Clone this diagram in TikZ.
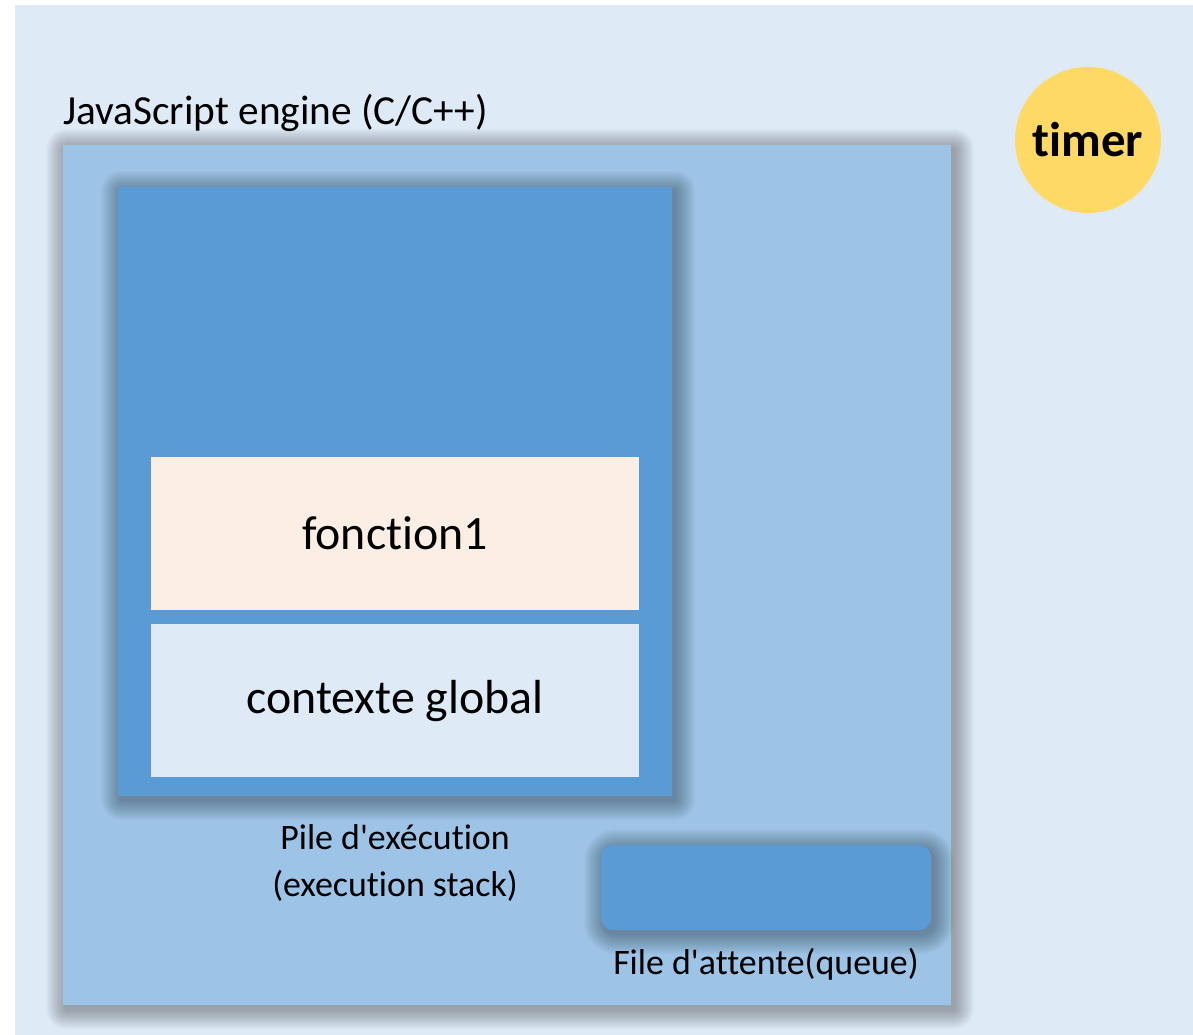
\documentclass[tikz,border=0pt]{standalone}
\usepackage{fontspec}
\setmainfont{Carlito}[Ligatures={TeXOff,NoCommon}]
\definecolor{bgblue}{HTML}{DEEAF6}
\definecolor{engblue}{HTML}{9DC3E6}
\definecolor{midblue}{HTML}{5B9BD5}
\definecolor{peach}{HTML}{FBEEE5}
\definecolor{timergold}{HTML}{FFD966}
\tikzset{
  box/.style={inner sep=0pt, outer sep=0pt, draw=none},
  lbl/.style={inner sep=0pt, font=\fontsize{36}{47}\selectfont},
  shadowlayer/.style={fill=black, fill opacity=0.016, draw=none},
}
\newcommand\softshadowof[2]{%
  \foreach \k in {1,...,20}{%
    \pgfmathsetmacro\rr{#2+\k}%
    \fill[shadowlayer, rounded corners=\rr bp] ([shift={(-\k+3,-\k+4)}]#1.north west) rectangle ([shift={(\k+3,\k+4)}]#1.south east);
  }}
\begin{document}
\begin{tikzpicture}[x=1bp,y=-1bp]
\useasboundingbox (0,0) rectangle (1193,1035);
\fill[bgblue] (15,5) rectangle (1193,1035);
\path (507,575) node[box, minimum width=888bp, minimum height=860bp] (engine) {};
\softshadowof{engine}{0}
\node[box, fill=engblue, minimum width=888bp, minimum height=860bp] at (engine) {};
\path (395,491.5) node[box, minimum width=554bp, minimum height=609bp] (stack) {};
\softshadowof{stack}{0}
\node[box, fill=midblue, minimum width=554bp, minimum height=609bp] at (stack) {};
\node[box, fill=peach, minimum width=488bp, minimum height=153bp, font=\fontsize{48}{56}\selectfont] (f1) at (395,533.5) {fonction1};
\node[box, fill=bgblue, minimum width=488bp, minimum height=153bp, font=\fontsize{48}{56}\selectfont] (glob) at (395,700.5) {contexte global};
\path (766,887.5) node[box, minimum width=330bp, minimum height=85bp] (queue) {};
\softshadowof{queue}{12}
\node[box, fill=midblue, rounded corners=12bp, minimum width=330bp, minimum height=85bp] at (queue) {};
\node[box, circle, fill=timergold, minimum size=146bp, font=\fontsize{49}{56}\selectfont\bfseries] (timer) at (1088,140) {timer};
\node[lbl, anchor=base west, font=\fontsize{41.5}{48}\selectfont] (englbl) at (63,124) {JavaScript engine (C/C++)};
\node[lbl, anchor=base, align=center] (stacklbl) at (395,896) {Pile d'exécution\\(execution stack)};
\node[lbl, anchor=base] (queuelbl) at (766,974) {File d'attente(queue)};
\end{tikzpicture}
\end{document}
